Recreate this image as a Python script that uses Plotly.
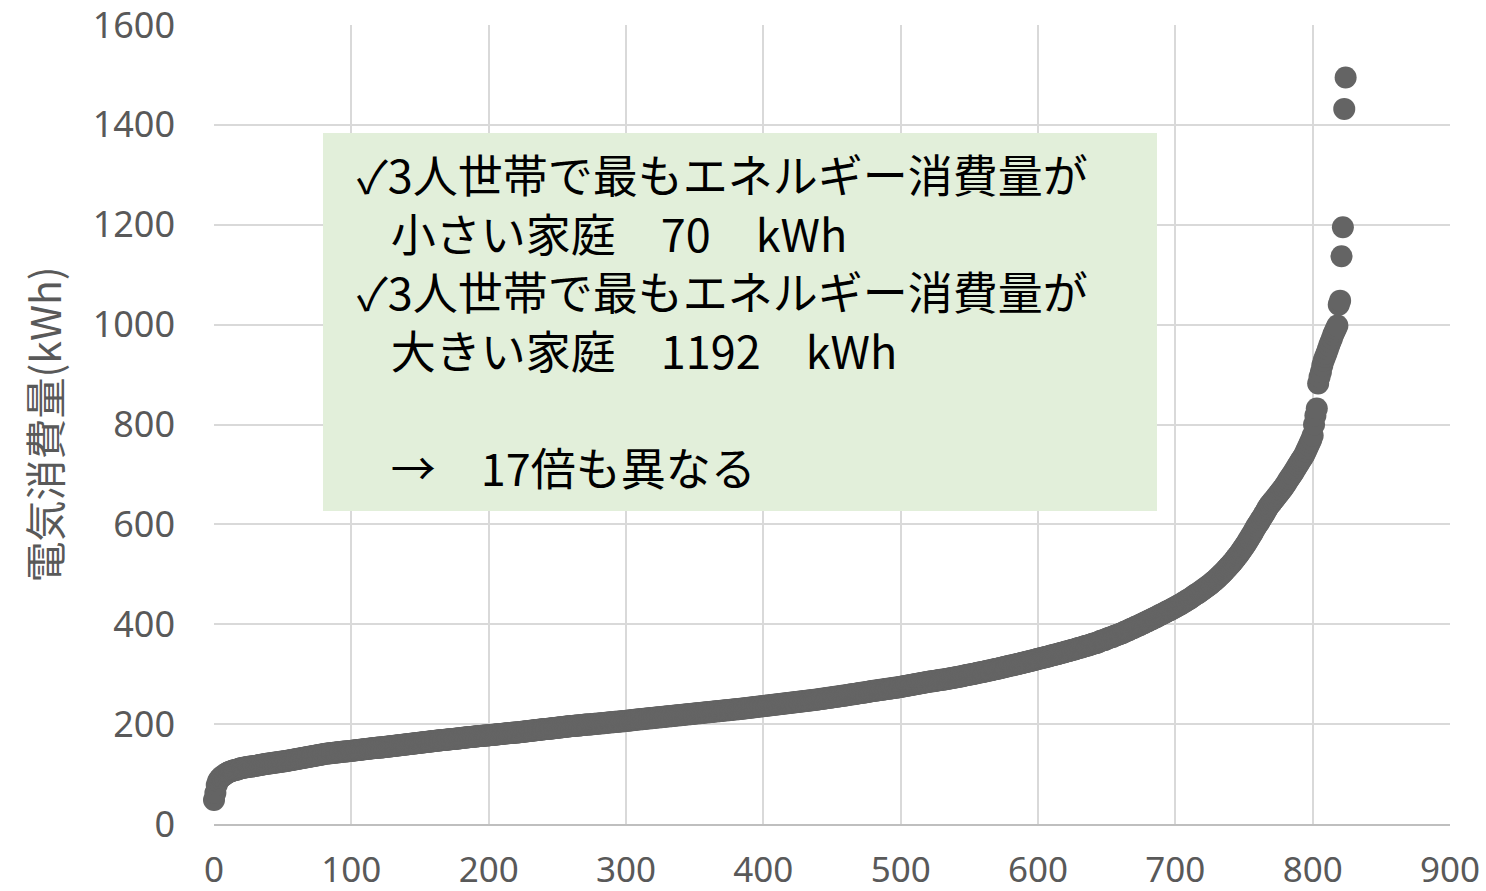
import plotly.graph_objects as go

# Monthly electricity use per household, sorted ascending (kWh)
kwh = [
    48, 62, 78, 86, 90, 93, 95, 97, 99, 101, 103, 104, 105, 106, 107, 108, 108, 109, 110, 111,
    112, 112, 113, 113, 114, 114, 115, 115, 115, 116, 116, 117, 117, 118, 118, 119, 119, 120, 120, 121,
    121, 121, 122, 122, 123, 123, 123, 124, 124, 125, 125, 125, 126, 126, 127, 127, 128, 128, 129, 129,
    130, 130, 131, 131, 132, 132, 133, 133, 134, 134, 135, 135, 136, 136, 137, 137, 138, 138, 139, 139,
    140, 140, 141, 141, 141, 142, 142, 142, 143, 143, 143, 144, 144, 144, 145, 145, 145, 145, 146, 146,
    146, 147, 147, 147, 148, 148, 148, 149, 149, 149, 150, 150, 150, 151, 151, 151, 152, 152, 152, 153,
    153, 153, 153, 154, 154, 154, 155, 155, 155, 156, 156, 156, 157, 157, 157, 158, 158, 158, 159, 159,
    159, 160, 160, 160, 161, 161, 161, 162, 162, 162, 163, 163, 163, 164, 164, 164, 165, 165, 165, 166,
    166, 166, 167, 167, 167, 168, 168, 168, 168, 169, 169, 169, 170, 170, 170, 170, 171, 171, 171, 172,
    172, 172, 173, 173, 173, 174, 174, 174, 174, 175, 175, 175, 176, 176, 176, 176, 177, 177, 177, 177,
    178, 178, 178, 178, 179, 179, 179, 180, 180, 180, 180, 181, 181, 181, 182, 182, 182, 182, 183, 183,
    183, 183, 184, 184, 184, 185, 185, 185, 186, 186, 186, 187, 187, 187, 188, 188, 188, 189, 189, 189,
    190, 190, 190, 190, 191, 191, 191, 192, 192, 192, 193, 193, 193, 194, 194, 194, 195, 195, 195, 196,
    196, 196, 196, 197, 197, 197, 197, 198, 198, 198, 199, 199, 199, 199, 200, 200, 200, 201, 201, 201,
    201, 202, 202, 202, 202, 203, 203, 203, 204, 204, 204, 204, 205, 205, 205, 205, 206, 206, 206, 206,
    207, 207, 207, 208, 208, 208, 209, 209, 209, 210, 210, 210, 210, 211, 211, 211, 212, 212, 212, 212,
    213, 213, 213, 214, 214, 214, 214, 215, 215, 215, 216, 216, 216, 216, 217, 217, 217, 218, 218, 218,
    218, 219, 219, 219, 220, 220, 220, 220, 221, 221, 221, 222, 222, 222, 222, 223, 223, 223, 224, 224,
    224, 224, 225, 225, 225, 226, 226, 226, 226, 227, 227, 227, 228, 228, 228, 228, 229, 229, 229, 230,
    230, 230, 230, 231, 231, 231, 232, 232, 232, 233, 233, 233, 234, 234, 234, 235, 235, 235, 236, 236,
    236, 237, 237, 237, 238, 238, 238, 239, 239, 239, 240, 240, 240, 241, 241, 241, 242, 242, 242, 243,
    243, 243, 244, 244, 244, 245, 245, 245, 246, 246, 246, 247, 247, 247, 248, 248, 248, 249, 249, 249,
    250, 250, 251, 251, 251, 252, 252, 253, 253, 253, 254, 254, 255, 255, 255, 256, 256, 257, 257, 257,
    258, 258, 259, 259, 260, 260, 260, 261, 261, 262, 262, 263, 263, 263, 264, 264, 265, 265, 266, 266,
    267, 267, 267, 268, 268, 269, 269, 269, 270, 270, 271, 271, 271, 272, 272, 273, 273, 273, 274, 274,
    275, 275, 276, 276, 277, 277, 278, 278, 279, 279, 280, 280, 281, 281, 282, 282, 283, 283, 284, 284,
    285, 285, 286, 286, 286, 287, 287, 288, 288, 289, 289, 289, 290, 290, 291, 291, 292, 292, 293, 293,
    294, 294, 295, 295, 296, 296, 297, 298, 298, 299, 299, 300, 300, 301, 301, 302, 303, 303, 304, 304,
    305, 305, 306, 307, 307, 308, 308, 309, 310, 310, 311, 311, 312, 313, 313, 314, 315, 315, 316, 317,
    317, 318, 318, 319, 320, 320, 321, 322, 322, 323, 324, 324, 325, 326, 326, 327, 328, 328, 329, 330,
    331, 331, 332, 333, 333, 334, 335, 335, 336, 337, 338, 338, 339, 340, 340, 341, 342, 343, 343, 344,
    345, 346, 346, 347, 348, 349, 349, 350, 351, 352, 353, 353, 354, 355, 356, 357, 357, 358, 359, 360,
    361, 362, 362, 363, 364, 366, 367, 368, 368, 369, 371, 372, 373, 374, 374, 376, 377, 378, 379, 380,
    381, 382, 383, 385, 386, 387, 388, 390, 391, 392, 393, 395, 396, 397, 398, 400, 401, 402, 404, 405,
    406, 408, 409, 410, 412, 413, 414, 416, 417, 419, 420, 421, 423, 424, 426, 427, 428, 430, 431, 433,
    434, 436, 437, 439, 440, 442, 444, 445, 447, 449, 450, 452, 454, 456, 458, 460, 461, 463, 465, 467,
    469, 471, 473, 475, 477, 479, 481, 484, 486, 488, 491, 493, 496, 499, 501, 504, 507, 510, 513, 516,
    519, 522, 525, 529, 532, 536, 539, 543, 547, 551, 555, 559, 563, 568, 572, 577, 581, 586, 591, 596,
    600, 604, 609, 613, 618, 622, 627, 632, 636, 640, 643, 647, 650, 654, 657, 661, 664, 668, 671, 675,
    679, 683, 688, 692, 696, 700, 704, 709, 713, 718, 722, 727, 731, 735, 740, 746, 752, 758, 764, 770,
    778, 800, 818, 832, 882, 895, 905, 918, 928, 935, 942, 950, 958, 965, 972, 980, 986, 992, 998,
    1040, 1048, 1137, 1195, 1432, 1495,
]
rank = list(range(len(kwh)))

x_ticks = [0, 100, 200, 300, 400, 500, 600, 700, 800, 900]
y_ticks = [0, 200, 400, 600, 800, 1000, 1200, 1400, 1600]

# Note text; the en space + four-per-em space indent lines up with the text after the tick mark
IND = "\u2002\u2005"
note_lines = [
    "✓3人世帯で最もエネルギー消費量が",
    IND + "小さい家庭　70　kWh",
    "✓3人世帯で最もエネルギー消費量が",
    IND + "大きい家庭　1192　kWh",
    "",
    IND + "→　17倍も異なる",
]

W, H = 1486, 891
L, R, T, B = 214, 36, 25, 67
PW, PH = W - L - R, H - T - B


def px(xp):
    return (xp - L) / PW


def py(yp):
    return (H - B - yp) / PH


GRAY = "#595959"
JP = "Noto Sans CJK JP"

fig = go.Figure()
fig.add_trace(go.Scatter(
    x=rank, y=kwh, mode="markers",
    marker=dict(size=22, color="#646464", line=dict(width=0)),
    cliponaxis=False, showlegend=False,
))

# Green note box
fig.add_shape(type="rect", xref="paper", yref="paper",
              x0=px(323), x1=px(1157), y0=py(511), y1=py(133),
              fillcolor="#E2EFDA", line=dict(width=0), layer="above")

fig.add_annotation(xref="paper", yref="paper", x=px(355), y=py(139),
                   xanchor="left", yanchor="top", align="left", showarrow=False,
                   text="<br>".join(note_lines),
                   font=dict(family=JP, size=45, color="#000000"))

fig.update_layout(
    width=W, height=H,
    margin=dict(l=L, r=R, t=T, b=B, autoexpand=False),
    paper_bgcolor="white", plot_bgcolor="white",
    font=dict(family="Noto Sans", color=GRAY),
)
fig.update_xaxes(
    range=[0, 900], tickvals=x_ticks, ticktext=[str(v) for v in x_ticks],
    showgrid=True, gridcolor="#D9D9D9", gridwidth=2,
    showline=True, linecolor="#BFBFBF", linewidth=2,
    zeroline=False, ticks="", automargin=False,
    tickfont=dict(family="Noto Sans", size=35, color=GRAY),
    ticklabelstandoff=14, ticklabeloverflow="allow",
)
fig.update_yaxes(
    range=[0, 1600], tickvals=y_ticks, ticktext=[str(v) for v in y_ticks],
    showgrid=True, gridcolor="#D9D9D9", gridwidth=2,
    zeroline=False, ticks="", automargin=False,
    tickfont=dict(family="Noto Sans", size=36, color=GRAY),
    ticklabelstandoff=38, ticklabeloverflow="allow",
    title=dict(text="電気消費量(kWh)", font=dict(family=JP, size=41, color=GRAY), standoff=18),
)

fig.write_html("out.html")
